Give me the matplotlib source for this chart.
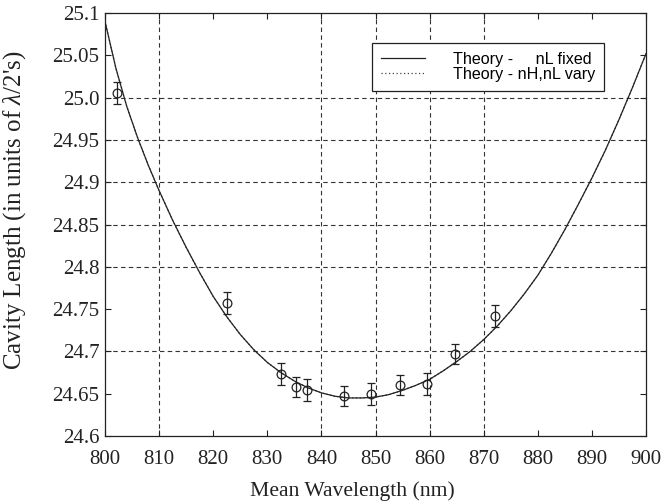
import matplotlib
matplotlib.use("Agg")
import matplotlib.pyplot as plt

plt.rcParams["font.family"] = ["Liberation Serif", "DejaVu Serif"]
plt.rcParams["mathtext.fontset"] = "custom"
plt.rcParams["mathtext.it"] = "Liberation Serif:italic"
plt.rcParams["mathtext.rm"] = "Liberation Serif"

# Measured cavity lengths with error bars
wavelength = [802.2, 822.5, 832.5, 835.3, 837.3, 844.1, 849.1, 854.5, 859.6, 864.7, 872.1]
cavity_len = [25.005, 24.757, 24.673, 24.658, 24.654, 24.647, 24.650, 24.660, 24.662, 24.697, 24.742]
cavity_err = [0.013, 0.013, 0.013, 0.012, 0.013, 0.012, 0.013, 0.012, 0.013, 0.012, 0.013]

# Theory curve, nL fixed
theory_wl = [800, 802, 804, 806, 808, 810, 812.5, 815, 817.5, 820, 822.5, 825, 827.5, 830, 832.5,
             835, 837.5, 840, 842.5, 845, 847.5, 850, 852.5, 855, 857.5, 860, 862.5, 865,
             867.5, 870, 872.5, 875, 877.5, 880, 882.5, 885, 887.5, 890, 892.5, 895, 897.5, 900]
theory_fixed = [25.09, 25.035, 24.99, 24.953, 24.92, 24.89, 24.855, 24.823, 24.793, 24.765, 24.741,
                24.72, 24.702, 24.687, 24.675, 24.665, 24.657, 24.651, 24.647, 24.645, 24.645,
                24.646, 24.649, 24.654, 24.660, 24.667, 24.677, 24.688, 24.700, 24.714, 24.730,
                24.748, 24.768, 24.790, 24.816, 24.844, 24.874, 24.905, 24.938, 24.974, 25.012,
                25.052]
# Theory curve, nH and nL vary
theory_vary = [25.09, 25.035, 24.99, 24.953, 24.92, 24.89, 24.855, 24.823, 24.793, 24.765, 24.741,
               24.72, 24.702, 24.687, 24.675, 24.665, 24.657, 24.651, 24.647, 24.645, 24.645,
               24.646, 24.649, 24.654, 24.660, 24.667, 24.677, 24.688, 24.700, 24.714, 24.730,
               24.748, 24.768, 24.790, 24.816, 24.844, 24.874, 24.905, 24.938, 24.974, 25.012,
               25.052]

x_ticks = [800, 810, 820, 830, 840, 850, 860, 870, 880, 890, 900]
y_ticks = [24.6, 24.65, 24.7, 24.75, 24.8, 24.85, 24.9, 24.95, 25.0, 25.05, 25.1]
y_tick_labels = ["24.6", "24.65", "24.7", "24.75", "24.8", "24.85", "24.9", "24.95", "25.0", "25.05", "25.1"]
grid_x = [810, 840, 850, 860, 870]
grid_y = [24.7, 24.8, 24.85, 24.9, 24.95, 25.0]

sans = "Liberation Sans"
ink = "#222222"

fig = plt.figure(figsize=(6.63, 5.04), dpi=100)
ax = fig.add_axes([0.1584, 0.1349, 0.816, 0.8393])

for gx in grid_x:
    ax.axvline(gx, color="#333333", ls=(0, (4, 3)), lw=0.8, zorder=1)
for gy in grid_y:
    ax.axhline(gy, color="#333333", ls=(0, (4, 3)), lw=0.8, zorder=1)

ax.plot(theory_wl, theory_vary, color="#444444", lw=0.9, ls=(0, (1, 2)),
        label="Theory - nH,nL vary", zorder=3)
ax.plot(theory_wl, theory_fixed, color=ink, lw=0.9, ls="-",
        label="Theory -     nL fixed", zorder=4)
ax.errorbar(wavelength, cavity_len, yerr=cavity_err, fmt="o", mfc="none", mec=ink,
            ms=6.3, mew=0.9, ecolor=ink, elinewidth=0.9, capsize=3, capthick=0.9,
            zorder=5)

ax.set_xlim(800, 900)
ax.set_ylim(24.6, 25.1)
ax.set_xticks(x_ticks)
ax.set_yticks(y_ticks)
ax.set_yticklabels(y_tick_labels)

ax.tick_params(direction="in", length=4, width=0.8, top=True, right=True, labelsize=15,
               colors=ink)
ax.tick_params(axis="x", pad=10)
ax.tick_params(axis="y", pad=4)
for sp in ax.spines.values():
    sp.set_linewidth(0.9)
    sp.set_color(ink)

ax.set_xlabel("Mean Wavelength (nm)", fontsize=15.6, color=ink)
ax.set_ylabel("Cavity Length (in units of $\\mathit{\\lambda}$/2's)", fontsize=18, color=ink)
ax.xaxis.set_label_coords(0.4575, -0.108)
ax.yaxis.set_label_coords(-0.143, 0.534)

handles, labels = ax.get_legend_handles_labels()
leg = ax.legend(handles[::-1], labels[::-1], loc="upper right", bbox_to_anchor=(0.9224, 0.929),
                borderaxespad=0, prop={"family": sans, "size": 11.6}, frameon=True,
                fancybox=False, edgecolor=ink, framealpha=1, handlelength=2.7,
                handletextpad=1.75, borderpad=0.55, labelspacing=0.0)
leg.get_frame().set_linewidth(0.9)

fig.savefig("out.png", dpi=100)
